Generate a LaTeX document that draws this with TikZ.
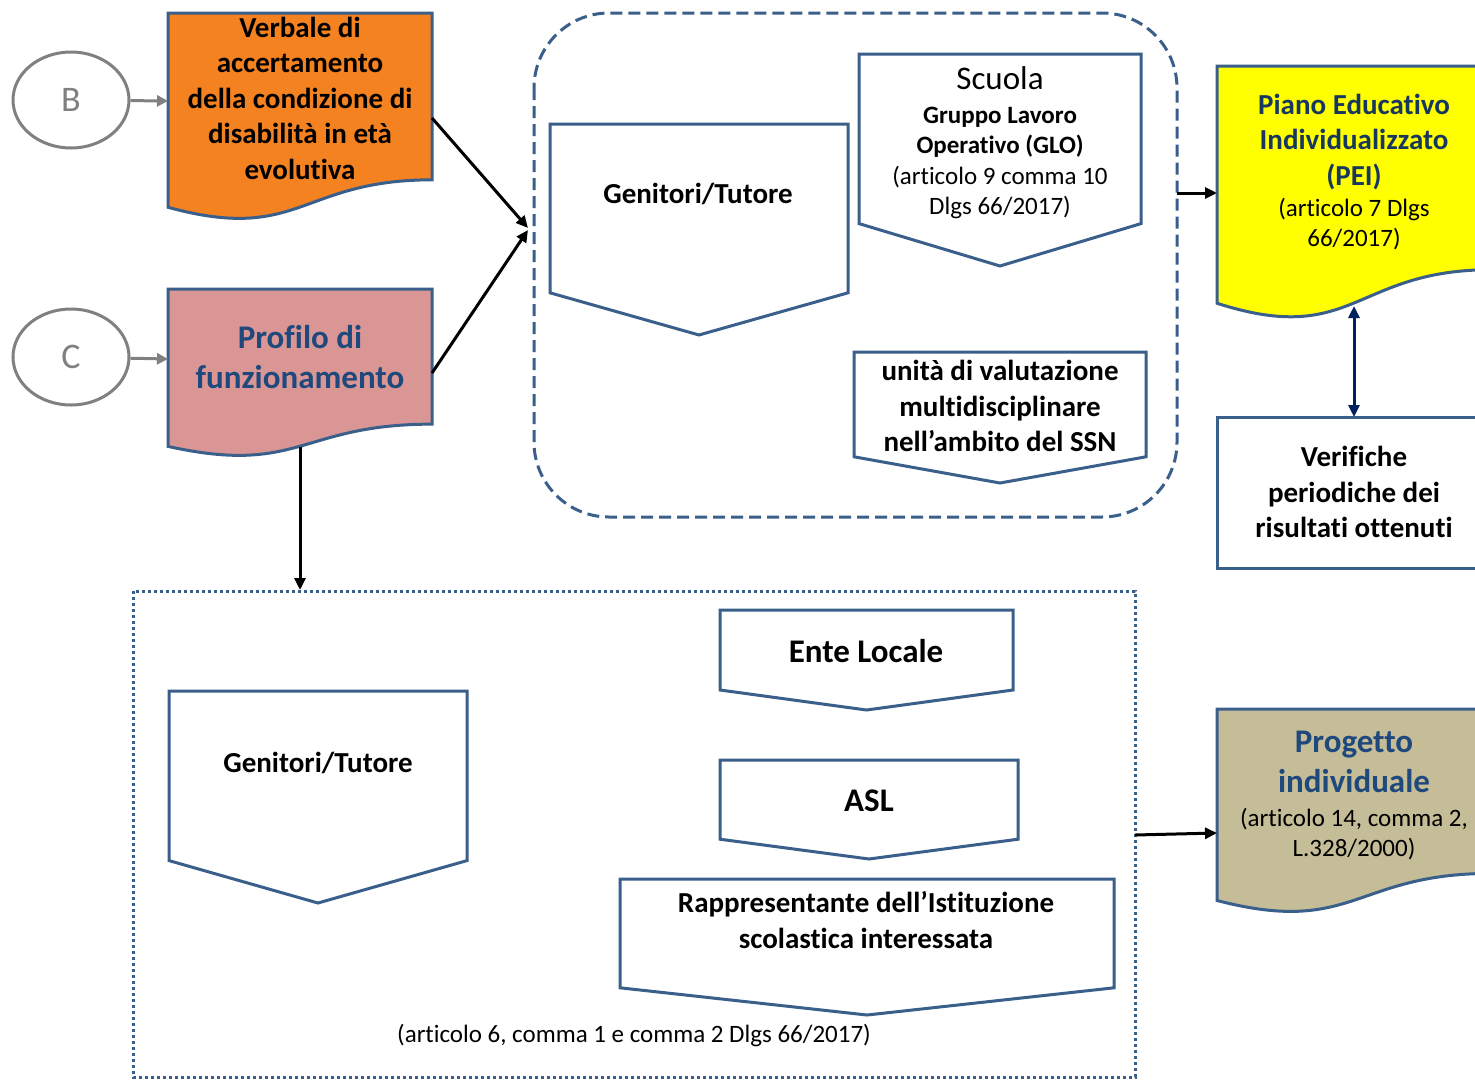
\documentclass[tikz,border=0pt]{standalone}
\usepackage{fontspec}
\setmainfont{Carlito}[Ligatures=NoCommon]
\usetikzlibrary{arrows.meta,shapes.geometric}
\definecolor{edge}{HTML}{3A5F8B}
\definecolor{orangefill}{HTML}{F58220}
\definecolor{pinkfill}{HTML}{D99694}
\definecolor{tanfill}{HTML}{C4BD97}
\definecolor{yellowfill}{HTML}{FFFF00}
\definecolor{darkblue}{HTML}{1F497D}
\definecolor{navytext}{HTML}{17375E}
\definecolor{arrownavy}{HTML}{002060}
\definecolor{circgray}{HTML}{808080}
\newcommand{\docpath}[5]{%
 \draw[shapeline, fill=#5] (#1,#2) -- ({#1+#3},#2) -- ({#1+#3},{#2+0.802*#4}) .. controls ({#1+0.5*#3},{#2+0.802*#4}) and ({#1+0.5*#3},{#2+1.1075*#4}) .. (#1,{#2+0.934*#4}) -- cycle;}
\newcommand{\offpath}[4]{%
 \draw[shapeline, fill=white] (#1,#2) -- ({#1+#3},#2) -- ({#1+#3},{#2+0.8*#4}) -- ({#1+0.5*#3},{#2+#4}) -- (#1,{#2+0.8*#4}) -- cycle;}
\begin{document}
\begin{tikzpicture}[x=1pt,y=-1pt,
 shapeline/.style={draw=edge, line width=3pt},
 txt/.style={inner sep=0pt, align=center},
 bold29/.style={txt, font=\fontsize{29}{35.5}\selectfont\bfseries},
 bold33/.style={txt, font=\fontsize{33}{40}\selectfont\bfseries},
 reg25/.style={txt, font=\fontsize{25}{30.5}\selectfont},
 blk/.style={-{Triangle[length=12pt,width=11pt]}, line width=3pt, black},
 grayarrow/.style={-{Triangle[length=11pt,width=11pt]}, line width=3pt, circgray},
 circ/.style={ellipse, draw=circgray, line width=3pt, minimum width=116pt, minimum height=96pt, inner sep=0pt, text=circgray, font=\fontsize{36}{40}\selectfont}
]
\useasboundingbox (0,0) rectangle (1475,1079);
\clip (0,0) rectangle (1475,1079);
\fill[white] (0,0) rectangle (1475,1079);

% containers
\draw[draw=edge, line width=3pt, dash pattern=on 12pt off 6pt, rounded corners=75pt] (534,13) rectangle (1177,517);
\draw[draw=edge, line width=3pt, dash pattern=on 3pt off 3pt] (133,591) rectangle (1135,1077);

% circles
\node[circ] (B) at (71,100) {B};
\node[circ] (C) at (71,357) {C};

% document shapes
\docpath{168}{13}{264}{208}{orangefill}
\node[bold29] (verbale) at (300,98) {Verbale di\\accertamento\\della condizione di\\disabilità in età\\evolutiva};

\docpath{168}{289}{264}{168.5}{pinkfill}
\node[txt, font=\fontsize{33}{39.5}\selectfont\bfseries, text=darkblue] (profilo) at (300,357) {Profilo di\\funzionamento};

\docpath{1217}{66}{274}{254}{yellowfill}
\node[bold29, text=navytext] (pei) at (1354,142) {Piano Educativo\\Individualizzato\\(PEI)};
\node[reg25] (peiref) at (1354,224) {(articolo 7 Dlgs\\66/2017)};

\docpath{1217}{709}{274}{205}{tanfill}
\node[bold33, text=darkblue] (progetto) at (1354,762) {Progetto\\individuale};
\node[reg25] (progref) at (1354,834) {(articolo 14, comma 2,\\L.328/2000)};

% Verifiche
\draw[shapeline, fill=white] (1217,417) rectangle (1495,568);
\node[bold29] (verifiche) at (1354,492) {Verifiche\\periodiche dei\\risultati ottenuti};

% offpage shapes top
\offpath{550}{124}{298}{211}
\node[bold29] (gen1) at (698,194) {Genitori/Tutore};
\offpath{859}{54}{282}{212}
\node[txt, font=\fontsize{33}{40}\selectfont] (scuola) at (1000,78) {Scuola};
\node[reg25] (glo) at (1000,163) {\textbf{Gruppo Lavoro}\\\textbf{Operativo (GLO)}\\(articolo 9 comma 10\\Dlgs 66/2017)};
\offpath{854}{352}{292}{131}
\node[bold29] (umv) at (1000,406) {unità di valutazione\\multidisciplinare\\nell’ambito del SSN};

% offpage shapes bottom
\offpath{169}{691}{298}{212}
\node[bold29] (gen2) at (318,763) {Genitori/Tutore};
\offpath{720}{610}{293}{100}
\node[bold33] (ente) at (866,651) {Ente Locale};
\offpath{720}{760}{298}{99}
\node[bold33] (asl) at (869,801) {ASL};
\offpath{620}{879}{494}{136}
\node[bold29] (rappr) at (866,920) {Rappresentante dell’Istituzione\\scolastica interessata};
\node[reg25] (caption) at (634,1035) {(articolo 6, comma 1 e comma 2 Dlgs 66/2017)};

% connector anchors
\coordinate (verbW) at (168,101);
\coordinate (profW) at (168,359);
\coordinate (verbE) at (432,118);
\coordinate (profE) at (432,373);
\coordinate (contW1) at (528,228);
\coordinate (contW2) at (528,230);
\coordinate (profS) at (300,447);
\coordinate (dotN) at (300,590);
\coordinate (contE) at (1177,193);
\coordinate (peiW) at (1217,193);
\coordinate (peiS) at (1354,306);
\coordinate (verN) at (1354,417);
\coordinate (dotE) at (1135,835);
\coordinate (progW) at (1217,833);

% connectors
\draw[grayarrow] (B) -- (verbW);
\draw[grayarrow] (C) -- (profW);
\draw[blk] (verbE) -- (contW1);
\draw[blk] (profE) -- (contW2);
\draw[blk] (profS) -- (dotN);
\draw[blk] (contE) -- (peiW);
\draw[{Triangle[length=12pt,width=11pt]}-{Triangle[length=12pt,width=11pt]}, line width=3pt, arrownavy] (peiS) -- (verN);
\draw[blk] (dotE) -- (progW);
\end{tikzpicture}
\end{document}
